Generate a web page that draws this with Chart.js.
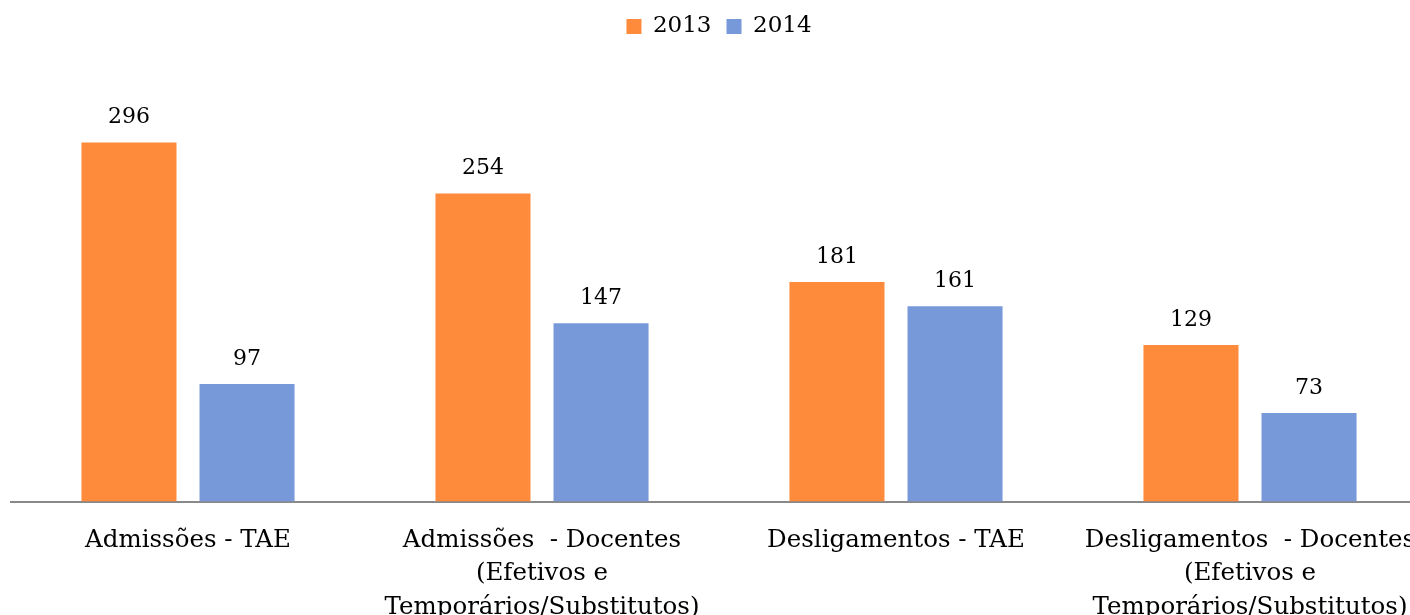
<!DOCTYPE html>
<html>
<head>
<meta charset="utf-8">
<script src="https://cdn.jsdelivr.net/npm/chart.js@4"></script>
<style>
    body { margin: 0; overflow: hidden; background: #fff; }
    #caixa { width: 1446px; height: 638px; }
</style>
</head>
<body>
<div id="caixa"><canvas id="chart1"></canvas></div>
<script>
const categorias = [
    'Admissões - TAE',
    ['Admissões  - Docentes', '(Efetivos e', 'Temporários/Substitutos)'],
    'Desligamentos - TAE',
    ['Desligamentos  - Docentes', '(Efetivos e', 'Temporários/Substitutos)']
];
const series = ['2013', '2014'];
const valores_2013 = [296, 254, 181, 129];
const valores_2014 = [97, 147, 161, 73];

const fonte = 'DejaVu Serif';

// escreve o valor em cima de cada barra
const rotulos = {
    id: 'rotulos',
    afterDatasetsDraw(chart) {
        const ctx = chart.ctx;
        ctx.save();
        ctx.font = `22px "${fonte}"`;
        ctx.fillStyle = '#000';
        ctx.textAlign = 'center';
        ctx.textBaseline = 'bottom';
        chart.data.datasets.forEach(function (ds, i) {
            chart.getDatasetMeta(i).data.forEach(function (barra, j) {
                ctx.fillText(ds.data[j], barra.x, barra.y - 14);
            });
        });
        ctx.restore();
    }
};

new Chart(document.getElementById('chart1'), {
    type: 'bar',
    data: {
        labels: categorias,
        datasets: [
            {
                label: series[0],
                data: valores_2013,
                backgroundColor: '#FE8A3B'
            },
            {
                label: series[1],
                data: valores_2014,
                backgroundColor: '#7799D9'
            }
        ]
    },
    plugins: [rotulos],
    options: {
        responsive: true,
        maintainAspectRatio: false,
        animation: false,
        categoryPercentage: 0.667,
        barPercentage: 0.805,
        layout: {
            padding: { left: 11, right: 19, top: 0, bottom: 0 }
        },
        plugins: {
            tooltip: { enabled: false },
            legend: {
                position: 'top',
                labels: {
                    boxWidth: 15,
                    boxHeight: 15,
                    padding: 15,
                    color: '#000',
                    font: { family: fonte, size: 23 }
                }
            }
        },
        scales: {
            x: {
                grid: { display: false },
                border: { display: true, color: '#898989', width: 2 },
                ticks: {
                    color: '#000',
                    padding: 14,
                    maxRotation: 0,
                    autoSkip: false,
                    font: { family: fonte, size: 24.5, lineHeight: 1.367 }
                }
            },
            y: {
                display: false,
                min: 0,
                max: 374
            }
        }
    }
});
</script>
</body>
</html>
